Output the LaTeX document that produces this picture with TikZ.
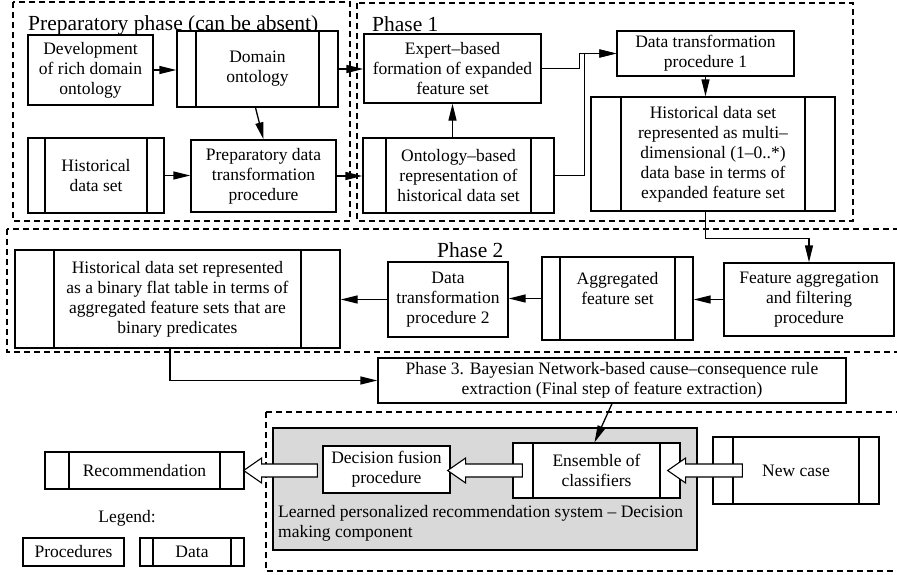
\documentclass[tikz,border=0pt]{standalone}
\usepackage{fontspec}
\setmainfont{Liberation Serif}
\usetikzlibrary{arrows.meta,calc}
\newcommand\harrow[2]{%
  \draw[harr] ($(#1)+(0,6.5)$) -- ($(#2)+(18,6.5)$) -- ($(#2)+(18,12.5)$) -- (#2)
    -- ($(#2)+(18,-12.5)$) -- ($(#2)+(18,-6.5)$) -- ($(#1)+(0,-6.5)$) -- cycle;}
\begin{document}
\begin{tikzpicture}[x=1pt,y=-1pt,
  every node/.style={font=\fontsize{17.5}{20}\selectfont, inner sep=0pt, align=center},
  box/.style={draw, line width=1.3pt, fill=white},
  databox/.style={box, path picture={
    \draw[line width=1.3pt] ([xshift=#1]path picture bounding box.north west) -- ([xshift=#1]path picture bounding box.south west)
      ([xshift=-#1]path picture bounding box.north east) -- ([xshift=-#1]path picture bounding box.south east);}},
  databox/.default=20,
  dframe/.style={draw, line width=1.2pt, dash pattern=on 6pt off 4pt},
  ttl/.style={font=\fontsize{21.5}{24}\selectfont, anchor=base west},
  arr/.style={line width=1.3pt, -{Triangle[length=17pt,width=8pt]}},
  harr/.style={draw, line width=1.1pt, fill=white, line join=miter},
]
\useasboundingbox (0,0) rectangle (897,574);

% frames
\draw[dframe] (13,2) rectangle (350,221);
\draw[dframe] (357,3) rectangle (853,221);
\draw[dframe] (7,229) rectangle (905,352);
\draw[dframe] (266,412) rectangle (905,571);
\node[draw, line width=1.3pt, fill=gray!30, minimum width=424, minimum height=122] (lrs) at (485,489) {};

% titles
\node[ttl] (t0) at (28,30) {Preparatory phase (can be absent)};
\node[ttl] (t1) at (372,31) {Phase 1};
\node[ttl] (t2) at (437,257) {Phase 2};

% preparatory phase
\node[box, minimum width=125, minimum height=70] (dev) at (90.5,70) {Development\\of rich domain\\ontology};
\node[databox=19, minimum width=161, minimum height=76] (dom) at (257.5,69) {Domain\\ontology};
\node[databox=17, minimum width=136, minimum height=75] (hist) at (96,175.5) {Historical\\data set};
\node[box, minimum width=145, minimum height=72] (prepdt) at (263.5,176) {Preparatory data\\transformation\\procedure};

% phase 1
\node[box, minimum width=177, minimum height=69] (exp) at (452.5,68.5) {Expert--based\\formation of expanded\\feature set};
\node[box, minimum width=177, minimum height=45] (dt1) at (705.5,53.5) {Data transformation\\procedure 1};
\node[databox=30, minimum width=244, minimum height=114] (hm) at (713,154) {Historical data set\\represented as multi--\\dimensional (1--0..*)\\data base in terms of\\expanded feature set};
\node[databox=23, minimum width=191, minimum height=75] (ont) at (458.5,175.5) {Ontology--based\\representation of\\historical data set};

% phase 2
\node[databox=39, minimum width=325, minimum height=98] (hb) at (177.5,299) {Historical data set represented\\as a binary flat table in terms of\\aggregated feature sets that are\\binary predicates};
\node[box, minimum width=120, minimum height=75] (dt2) at (448,299.5) {Data\\transformation\\procedure 2};
\node[databox=18, minimum width=151, minimum height=83] (agg) at (617.5,298.5) {Aggregated\\feature set\\\mbox{}};
\node[box, minimum width=170, minimum height=73] (fa) at (809,299.5) {Feature aggregation\\and filtering\\procedure};

% phase 3
\node[box, minimum width=468, minimum height=45] (ph3) at (612,380.5) {Phase 3. Bayesian Network-based cause--consequence rule\\extraction (Final step of feature extraction)};

% decision making
\node[box, minimum width=127, minimum height=47] (fus) at (386.5,469.5) {Decision fusion\\procedure};
\node[databox=20, minimum width=167, minimum height=55] (ens) at (596.5,470.5) {Ensemble of\\classifiers};
\node[databox=20, minimum width=166, minimum height=67] (nc) at (796,470.5) {New case};
\node[databox=24, minimum width=199, minimum height=37] (rec) at (144.5,470.5) {Recommendation};
\node[anchor=west, align=left] (lrst) at (278,523) {Learned personalized recommendation system -- Decision\\making component};

% legend
\node (leg) at (127,518) {Legend:};
\node[box, minimum width=101, minimum height=28] (lp) at (73.5,552) {Procedures};
\node[databox=13, minimum width=104, minimum height=28] (ld) at (192,552) {Data};

% connectors
\draw[arr] (dev.east) -- (dev.east -| dom.west);
\draw[arr] ([xshift=-2pt]dom.south) -- (prepdt.north);
\draw[arr] (hist.east) -- (hist.east -| prepdt.west);
\draw[arr] (dom.east) -- (dom.east -| exp.west);
\draw[arr] (prepdt.east) -- (prepdt.east -| ont.west);
\draw[arr] (exp.east) -- ++(38,0) |- (dt1.west);
\draw[arr] (ont.east) -- ++(30,0) |- (dt1.west);
\draw[arr] (ont.north -| exp.south) -- (exp.south);
\draw[arr] (dt1.south) -- (dt1.south |- hm.north);
\draw[arr] (dt1.south |- hm.south) -- ++(0,27) -| (fa.north);
\draw[arr] (fa.west) -- (fa.west -| agg.east);
\draw[arr] (agg.west) -- (agg.west -| dt2.east);
\draw[arr] (dt2.west) -- (dt2.west -| hb.east);
\draw[arr] ([xshift=-7.5pt]hb.south) |- (ph3.west);
\draw[arr] (ph3.south) -- ([xshift=-2pt]ens.north);

% hollow arrows
\coordinate (e1) at ([xshift=10pt]ens.west);
\coordinate (f1) at ($(fus.east |- e1)+(-3,0)$);
\coordinate (n1) at ([xshift=30pt]nc.west);
\coordinate (e2) at ($(ens.east |- n1)+(-13,0)$);
\coordinate (f2) at ($(fus.west |- e1)+(-5,0)$);
\coordinate (r1) at ($(rec.east |- e1)+(-1,0)$);
\harrow{e1}{f1}
\harrow{n1}{e2}
\harrow{f2}{r1}
\end{tikzpicture}
\end{document}
